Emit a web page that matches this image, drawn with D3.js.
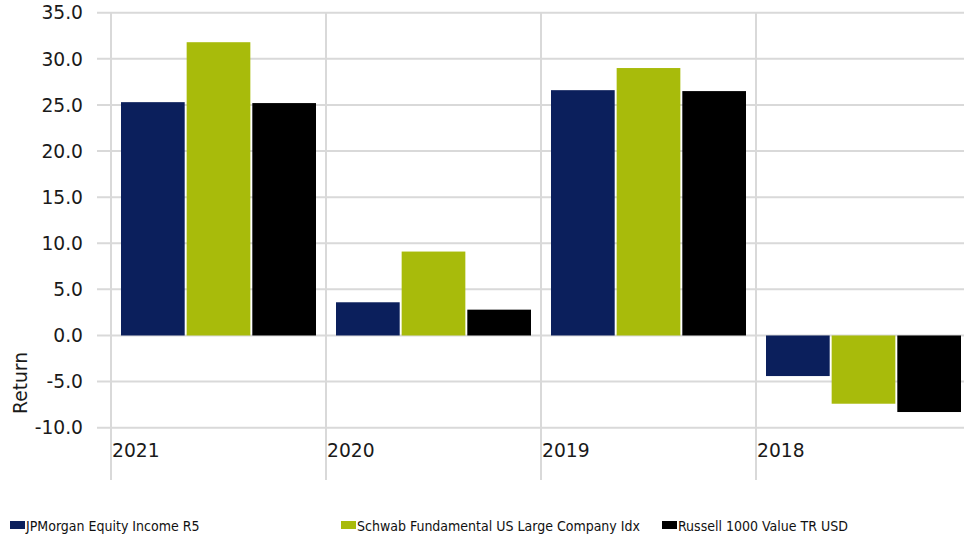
<!DOCTYPE html>
<html>
<head>
<meta charset="utf-8">
<script src="https://cdn.jsdelivr.net/npm/d3@7/dist/d3.min.js"></script>
<style>
  html, body { margin: 0; padding: 0; background: #fff; }
  svg { display: block; }
  text { font-family: "DejaVu Sans", Verdana, sans-serif; fill: #1a1a1a; }
</style>
</head>
<body>
<svg id="chart" width="964" height="535"></svg>
<script>
// Calendar-year returns (%)
const years = ["2021", "2020", "2019", "2018"];
const seriesNames = ["JPMorgan Equity Income R5", "Schwab Fundamental US Large Company Idx", "Russell 1000 Value TR USD"];
const jpmorgan = [25.3, 3.6, 26.6, -4.4];
const schwab = [31.8, 9.1, 29.0, -7.4];
const russell = [25.2, 2.8, 26.5, -8.3];
const yTicks = [35, 30, 25, 20, 15, 10, 5, 0, -5, -10];
const colors = ["#0b1f5c", "#a8bb0b", "#000000"];

const seriesValues = [jpmorgan, schwab, russell];
const rows = years.map((y, i) => ({ year: y, values: seriesValues.map((s, k) => ({ key: k, value: s[i] })) }));

const svg = d3.select("#chart");
const plot = { left: 111, right: 971, top: 12.7, bottom: 427.7 };

const x0 = d3.scaleBand().domain(years).range([plot.left, plot.right]).paddingInner(0).paddingOuter(0);
const x1 = d3.scaleBand().domain([0, 1, 2]).range([10, x0.bandwidth() - 10]).paddingInner(0.03);
const y = d3.scaleLinear().domain([-10, 35]).range([plot.bottom, plot.top]);

const grid = svg.append("g").attr("stroke", "#d9d9d9").attr("stroke-width", 2);

// horizontal gridlines with short tick stubs to the left of the axis
grid.selectAll("line.h").data(yTicks).join("line")
  .attr("class", "h")
  .attr("x1", plot.left - 14).attr("x2", plot.right)
  .attr("y1", d => y(d)).attr("y2", d => y(d));

// vertical category separators extending below the plot
const vx = years.map(c => x0(c)).concat([plot.right]);
grid.selectAll("line.v").data(vx).join("line")
  .attr("class", "v")
  .attr("x1", d => d).attr("x2", d => d)
  .attr("y1", plot.top).attr("y2", 480);

// y tick labels
svg.append("g").selectAll("text").data(yTicks).join("text")
  .attr("x", 83).attr("y", d => y(d))
  .attr("dy", "0.36em")
  .attr("text-anchor", "end")
  .style("font-size", "18.7px")
  .text(d => d.toFixed(1));

// axis title
svg.append("text")
  .attr("transform", "translate(27,383) rotate(-90)")
  .attr("text-anchor", "middle")
  .style("font-size", "18.7px")
  .text("Return");

// bars
const groups = svg.append("g").selectAll("g").data(rows).join("g")
  .attr("transform", d => `translate(${x0(d.year)},0)`);
groups.selectAll("rect").data(d => d.values).join("rect")
  .attr("x", d => x1(d.key))
  .attr("width", x1.bandwidth())
  .attr("y", d => y(Math.max(0, d.value)))
  .attr("height", d => Math.abs(y(d.value) - y(0)))
  .attr("fill", d => colors[d.key]);

// category labels
svg.append("g").selectAll("text").data(years).join("text")
  .attr("x", d => x0(d) + 1).attr("y", 457)
  .style("font-size", "18.7px")
  .text(d => d);

// legend
const legendX = [10, 341, 662];
const leg = svg.append("g").selectAll("g").data(seriesNames).join("g")
  .attr("transform", (d, i) => `translate(${legendX[i]},521)`);
leg.append("rect").attr("x", 0).attr("y", 0).attr("width", 15).attr("height", 8)
  .attr("fill", (d, i) => colors[i]);
leg.append("text").attr("x", 16).attr("y", 10)
  .style("font-family", "'DejaVu Sans Condensed', 'DejaVu Sans', sans-serif")
  .style("font-size", "14px")
  .style("fill", "#111")
  .text(d => d);
</script>
</body>
</html>
